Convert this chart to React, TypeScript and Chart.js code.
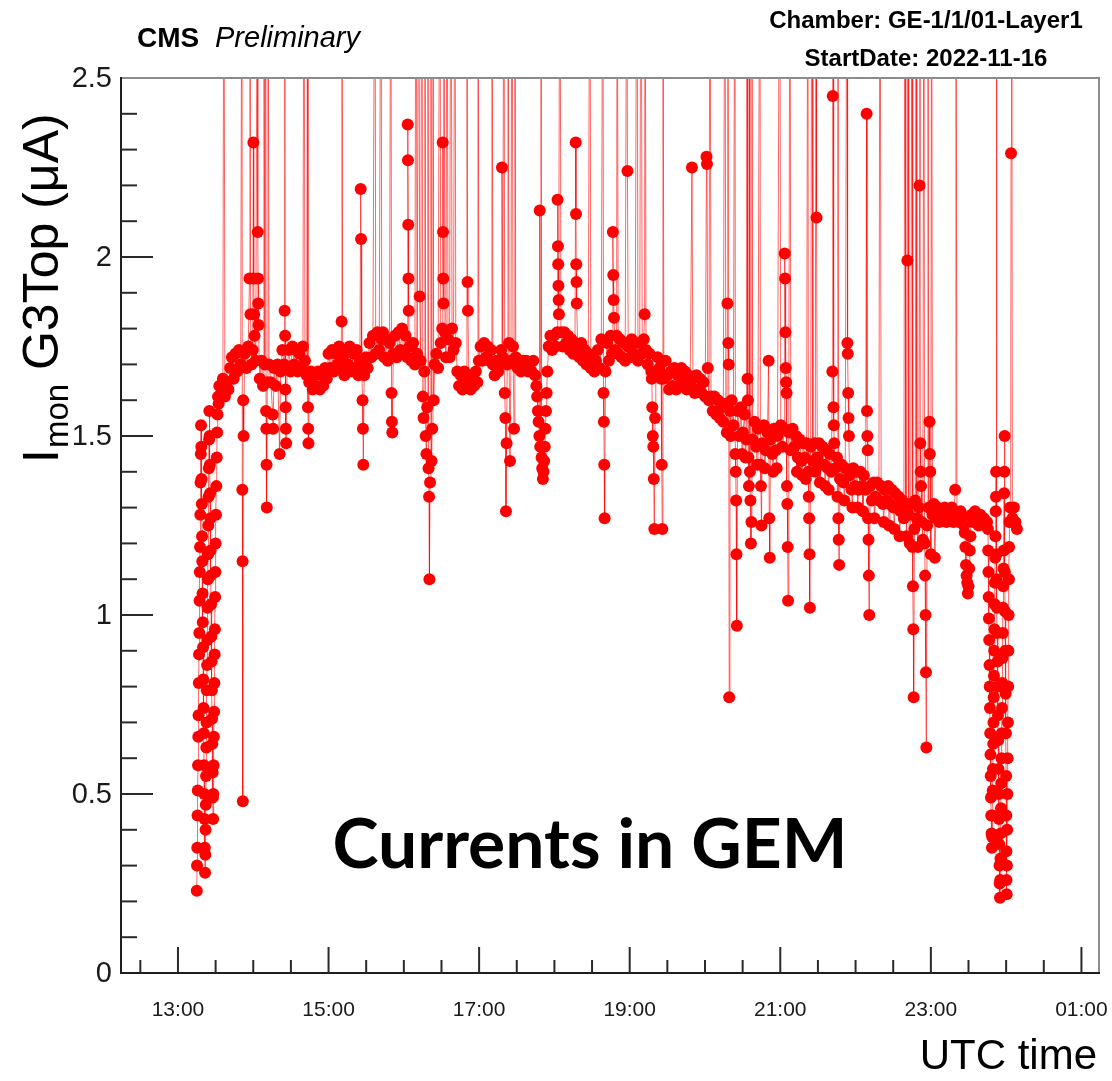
import { useEffect, useRef } from "react";
import { Chart, registerables } from "chart.js";

Chart.register(...registerables);

type Pt = [number, number];

// Time = minutes after 12:00 UTC (2022-11-16); value = I_mon G3Top in µA.
// Values above 2.5 are excursions that leave the frame (drawn as spikes to the top).

const rampUp: Pt[] = [
  [75.0, 0.23], [75.2, 0.3], [75.4, 0.35], [75.6, 0.44], [75.8, 0.51], [76.0, 0.58], [76.2, 0.66], [76.4, 0.72],
  [76.6, 0.81], [76.8, 0.89], [77.0, 0.95], [77.2, 1.04], [77.4, 1.12], [77.6, 1.19], [77.8, 1.28], [78.0, 1.37],
  [78.2, 1.45], [78.4, 1.53], [78.6, 1.47], [78.8, 1.38], [79.0, 1.31], [79.2, 1.22], [79.4, 1.15], [79.6, 1.06],
  [79.8, 0.98], [80.0, 0.91], [80.2, 0.82], [80.4, 0.74], [80.6, 0.67], [80.8, 0.58], [81.0, 0.5], [81.2, 0.43],
  [81.4, 0.35], [81.6, 0.28], [81.8, 0.33], [82.0, 0.4], [82.2, 0.47], [82.4, 0.55], [82.6, 0.63], [82.8, 0.7],
  [83.0, 0.79], [83.2, 0.86], [83.4, 0.93], [83.6, 1.02], [83.8, 1.1], [84.0, 1.17], [84.2, 1.25], [84.4, 1.33],
  [84.6, 1.41], [84.8, 1.49], [85.0, 1.57], [85.2, 1.5], [85.4, 1.42], [85.6, 1.34], [85.8, 1.27], [86.0, 1.18],
  [86.2, 1.11], [86.4, 1.03], [86.6, 0.94], [86.8, 0.87], [87.0, 0.79], [87.2, 0.71], [87.4, 0.64], [87.6, 0.56],
  [87.8, 0.49], [88.0, 0.43], [88.2, 0.5], [88.4, 0.58], [88.6, 0.66], [88.8, 0.73], [89.0, 0.81], [89.2, 0.89],
  [89.4, 0.96], [89.6, 1.05], [89.8, 1.12], [90.0, 1.2], [90.3, 1.28], [90.6, 1.36], [90.9, 1.44], [91.2, 1.51],
  [91.5, 1.56], [91.9, 1.61], [92.4, 1.59], [92.9, 1.64],
];

const early: Pt[] = [
  [94.5, 1.62], [95.8, 1.66], [96.6, 3.2], [97.4, 1.61], [98.8, 1.65], [100.2, 1.63], [101.6, 1.69], [103.0, 1.72],
  [104.4, 1.66], [105.8, 1.73], [107.2, 1.68], [108.6, 1.74], [110.0, 1.7], [111.0, 3.2], [111.3, 1.35], [111.5, 1.15],
  [111.7, 0.48], [112.0, 1.6], [112.3, 1.5], [113.2, 1.73], [114.6, 1.69], [116.0, 1.75], [117.0, 1.94], [117.4, 3.2],
  [117.8, 1.84], [118.6, 1.7], [119.6, 1.74], [120.1, 2.32], [120.4, 1.94], [120.7, 1.84], [121.0, 1.78], [122.0, 1.71],
  [123.4, 3.2], [123.6, 2.07], [123.8, 1.94], [124.0, 1.87], [124.2, 1.81], [125.2, 1.66], [126.6, 1.71], [127.8, 1.64],
  [128.5, 3.2], [129.2, 1.7], [130.0, 3.2], [130.2, 1.57], [130.4, 1.52], [130.6, 1.42], [130.8, 1.3], [131.2, 1.65],
  [131.7, 3.2], [132.6, 1.7], [134.0, 1.65], [135.5, 1.56], [135.8, 1.52], [136.6, 1.69], [138.0, 1.64], [139.4, 1.7],
  [141.0, 1.45], [141.8, 1.68], [143.2, 1.74], [144.6, 1.7], [145.0, 1.85], [145.2, 3.2], [145.4, 1.78], [145.6, 1.63],
  [145.8, 1.58], [146.0, 1.52], [146.2, 1.48], [147.0, 1.69], [148.4, 1.74], [149.8, 1.68], [151.2, 1.75], [152.6, 1.7],
  [154.0, 1.74], [155.4, 1.68], [156.8, 1.73], [158.2, 1.69], [159.6, 1.75], [160.4, 3.2], [161.2, 1.71], [162.6, 1.67],
  [163.4, 3.2], [163.6, 1.58], [163.8, 1.52], [164.0, 1.48], [164.6, 1.65], [166.0, 1.68], [167.4, 1.63], [168.8, 1.67],
  [170.2, 1.64], [171.6, 1.68], [173.0, 1.63], [174.4, 1.67], [175.8, 1.64], [177.2, 1.69], [178.6, 1.66],
];

const midA: Pt[] = [
  [180.0, 1.73], [181.4, 1.69], [182.8, 1.74], [184.2, 1.68], [185.6, 1.73], [187.0, 1.7], [188.4, 1.75], [189.8, 1.69],
  [190.4, 1.82], [190.7, 3.2], [191.2, 1.72], [192.6, 1.67], [194.0, 1.74], [195.4, 1.7], [196.8, 1.75], [198.2, 1.68],
  [199.6, 1.73], [201.0, 1.69], [202.4, 1.74], [203.8, 1.67], [205.0, 1.71], [205.6, 2.19], [205.9, 2.05], [206.4, 1.7],
  [207.1, 1.6], [207.4, 1.52], [207.7, 1.42], [208.4, 1.67], [209.8, 1.72], [211.2, 1.69], [212.6, 1.76], [214.0, 1.72],
  [215.4, 1.78], [217.0, 3.2], [217.6, 1.73], [219.0, 1.79], [220.4, 1.74], [221.8, 3.2], [222.4, 1.77], [223.4, 1.79],
  [224.4, 1.72], [225.8, 1.77], [227.2, 1.71], [228.6, 1.76], [229.7, 3.2], [230.2, 1.62], [230.5, 1.54], [230.8, 1.51],
  [231.6, 1.73], [233.0, 1.78], [234.4, 1.72], [235.8, 1.79], [237.2, 1.74], [238.6, 1.8], [240.0, 1.73], [241.4, 1.78],
  [242.8, 1.72], [243.1, 2.37], [243.3, 2.27], [243.5, 2.09], [243.7, 1.94], [243.9, 1.85], [244.6, 1.75], [246.0, 1.71],
  [247.4, 1.76], [248.8, 1.7], [249.7, 3.2], [250.6, 1.73], [252.0, 3.2], [252.6, 1.89], [253.4, 1.71], [254.4, 3.2],
  [255.1, 1.61], [255.7, 1.55], [256.3, 1.68], [256.8, 3.2], [257.4, 1.5], [258.0, 1.45], [258.6, 1.58], [259.2, 3.2],
  [259.7, 1.41], [260.1, 1.33], [260.4, 1.1], [260.9, 1.37], [261.6, 3.2], [262.1, 1.43], [262.6, 1.52], [263.2, 3.2],
  [263.8, 1.6], [264.5, 1.7], [265.9, 1.73], [267.3, 1.69], [268.8, 3.2], [269.4, 1.76], [270.6, 1.8], [271.0, 2.32],
  [271.2, 2.07], [271.4, 1.94], [271.6, 1.87], [272.0, 3.2], [272.8, 1.79], [273.6, 1.72], [274.4, 3.2], [275.2, 1.77],
  [276.4, 1.72], [277.6, 3.2], [278.4, 1.8], [279.6, 1.74], [280.7, 3.2], [281.4, 1.76], [282.6, 1.68], [284.0, 1.64],
  [285.4, 1.67], [286.8, 1.63], [288.2, 1.68], [289.6, 1.65], [290.3, 3.2], [290.8, 1.93], [291.1, 1.85], [291.8, 1.66],
  [293.2, 1.63], [294.6, 1.67], [296.0, 1.64], [297.4, 1.68], [298.6, 1.65], [299.1, 3.2], [299.8, 1.71],
];

const midB: Pt[] = [
  [301.2, 1.75], [302.6, 1.71], [304.0, 1.76], [305.4, 1.72], [306.8, 1.75], [308.2, 1.71], [309.6, 1.74], [310.2, 3.2],
  [311.0, 1.7], [312.4, 1.67], [313.8, 1.71], [315.2, 1.68], [316.6, 1.7], [317.6, 1.74], [318.2, 2.25], [318.8, 1.72],
  [319.8, 3.2], [320.4, 1.62], [320.9, 1.55], [321.4, 1.29], [321.9, 1.48], [322.4, 1.7], [323.0, 3.2], [323.8, 1.76],
  [324.6, 1.43], [325.4, 1.71], [326.2, 3.2], [327.0, 1.75], [327.8, 1.52], [328.5, 3.2], [329.2, 1.72], [330.6, 1.69],
  [332.0, 1.71], [333.4, 1.68], [334.8, 1.71], [336.2, 1.69], [337.6, 1.71], [339.0, 1.68], [340.4, 1.7], [341.8, 1.68],
  [343.2, 1.71], [344.6, 1.67], [345.6, 1.64], [346.2, 1.61], [346.8, 1.57], [347.4, 1.54], [348.0, 1.5], [348.3, 2.13],
  [348.7, 1.47], [349.3, 3.2], [349.8, 1.44], [350.3, 1.41], [350.8, 1.38], [351.3, 1.4], [351.8, 1.43], [352.3, 1.47],
  [352.8, 1.52], [353.3, 1.57], [353.8, 1.62], [354.4, 1.68], [355.4, 1.75], [356.8, 1.78], [358.2, 1.74], [359.6, 1.78],
  [361.0, 1.75], [362.2, 1.79], [362.5, 2.16], [362.8, 2.03], [363.0, 1.98], [363.2, 1.92], [363.4, 1.88], [363.6, 1.84],
  [364.4, 3.2], [365.2, 1.79], [366.6, 1.75], [368.0, 1.79], [369.4, 1.76], [370.8, 1.78], [372.2, 1.74], [373.6, 1.77],
  [375.0, 1.73], [376.4, 1.76], [377.0, 2.32], [377.2, 2.12], [377.4, 1.98], [377.6, 1.93], [377.8, 1.87], [378.6, 1.75],
  [380.0, 1.72], [381.4, 1.76], [382.8, 1.71], [384.2, 1.74], [385.6, 1.7], [387.0, 1.73], [388.3, 3.2], [389.0, 1.69],
  [390.4, 1.72], [391.8, 1.68], [393.2, 1.71], [394.6, 1.74], [396.0, 1.69], [397.4, 1.77], [398.7, 3.2], [399.1, 1.62],
  [399.4, 1.54], [399.7, 1.42], [400.0, 1.27], [400.7, 1.68], [402.0, 1.76], [403.4, 1.71], [404.8, 1.78], [406.0, 1.73],
  [406.6, 2.07], [406.9, 1.95], [407.2, 1.88], [407.5, 1.83], [408.4, 1.74], [409.6, 1.78], [410.0, 3.2], [410.8, 1.73],
  [412.2, 1.77], [413.6, 1.72], [415.0, 1.76], [416.4, 1.71], [417.8, 3.2], [418.2, 2.24], [418.8, 1.75],
];

const lateA: Pt[] = [
  [420.2, 1.72], [421.6, 1.77], [423.0, 1.73], [424.4, 1.76], [425.8, 3.2], [426.6, 1.71], [428.0, 1.76], [429.0, 3.2],
  [430.0, 1.73], [431.2, 1.77], [431.9, 1.84], [432.2, 3.2], [433.0, 1.74], [434.4, 1.7], [435.8, 1.73], [437.2, 1.68],
  [437.6, 1.66], [438.0, 1.58], [438.4, 1.5], [438.8, 1.47], [439.2, 1.38], [439.6, 1.24], [440.2, 1.55], [440.8, 1.68],
  [442.2, 1.72], [443.6, 1.69], [445.0, 1.66], [445.5, 1.42], [446.0, 1.24], [446.5, 3.2], [447.2, 1.66], [448.6, 1.71],
  [450.0, 1.67], [451.4, 1.63], [452.8, 1.68], [454.2, 1.64], [455.6, 1.69], [457.0, 1.63], [458.4, 1.67], [459.8, 1.64],
  [461.2, 1.69], [462.6, 1.65], [464.0, 1.68], [465.4, 1.63], [466.8, 1.67], [468.2, 1.64], [469.6, 2.25], [470.4, 1.66],
  [471.8, 1.62], [473.2, 1.67], [474.6, 1.63], [476.0, 1.66], [477.4, 1.62], [478.8, 1.65], [480.2, 1.61], [481.2, 2.28],
  [481.6, 2.26], [482.2, 1.69], [483.2, 1.6], [484.0, 3.2], [484.8, 1.61], [486.2, 1.57], [487.6, 1.61], [489.0, 1.56],
  [490.4, 1.6], [491.8, 1.55], [493.2, 1.58], [494.6, 1.54], [495.9, 3.2], [496.6, 1.59], [497.4, 1.51], [497.9, 1.87],
  [498.3, 3.2], [498.6, 1.76], [498.9, 1.7], [499.3, 0.77], [499.9, 1.57], [500.5, 1.5], [501.2, 1.6], [502.6, 1.53],
  [503.9, 3.2], [504.2, 1.45], [504.5, 1.4], [504.8, 1.32], [505.1, 1.17], [505.4, 0.97], [506.0, 1.57], [507.4, 1.5],
  [508.8, 1.58], [509.5, 1.45], [510.2, 1.51], [511.6, 1.56], [512.3, 1.44], [513.0, 1.49], [513.5, 3.2], [513.9, 1.66],
  [514.2, 1.6], [514.6, 1.44], [515.0, 1.36], [515.4, 3.2], [515.8, 1.4], [516.2, 1.32], [516.6, 1.2], [517.0, 1.26],
  [517.4, 3.2], [518.0, 1.49], [519.4, 1.54], [520.8, 1.47], [521.5, 1.42], [522.2, 1.52], [523.8, 3.2], [524.2, 1.42],
  [524.6, 1.36], [525.0, 1.25], [525.6, 1.48], [527.0, 1.53], [527.7, 1.41], [528.4, 1.46], [529.8, 1.51], [530.7, 1.71],
  [531.2, 1.27], [531.6, 1.16], [532.2, 1.49], [533.6, 1.45], [534.3, 1.4], [535.0, 1.52], [536.4, 1.46], [537.1, 1.41],
  [537.8, 1.5],
];

const lateB: Pt[] = [
  [539.5, 3.2], [540.4, 1.53], [541.8, 1.47], [543.2, 1.52], [543.5, 2.01], [543.8, 1.94], [544.1, 1.79], [544.4, 1.69],
  [544.7, 1.65], [545.0, 1.62], [545.3, 1.36], [545.6, 1.31], [545.9, 1.19], [546.2, 1.04], [546.8, 1.51], [547.7, 3.2],
  [548.4, 1.46], [549.8, 1.52], [551.2, 1.47], [552.6, 1.5], [553.3, 1.4], [554.0, 1.44], [555.4, 1.49], [556.8, 1.43],
  [557.5, 1.39], [558.2, 1.48], [559.6, 1.44], [560.3, 1.38], [561.0, 1.48], [562.0, 3.2], [562.4, 1.4], [562.7, 1.33],
  [563.0, 1.27], [563.3, 1.17], [563.6, 1.02], [564.2, 1.47], [565.3, 3.2], [566.0, 1.43], [567.4, 1.48], [567.9, 1.4],
  [568.5, 3.2], [568.9, 2.11], [569.5, 1.44], [570.9, 1.48], [571.6, 1.37], [572.3, 1.42], [573.7, 1.47], [575.1, 1.42],
  [575.8, 1.36], [576.5, 1.46], [577.9, 1.41], [578.6, 1.35], [579.3, 1.45], [580.7, 1.4], [581.5, 1.68], [581.8, 2.45],
  [582.1, 3.2], [582.4, 1.58], [582.7, 1.53], [583.0, 1.48], [583.8, 1.41], [585.2, 1.44], [585.6, 1.33], [586.0, 3.2],
  [586.3, 1.27], [586.6, 1.21], [586.9, 1.14], [587.6, 1.38], [589.0, 1.42], [590.4, 1.37], [591.1, 1.32], [591.8, 1.41],
  [593.2, 3.2], [593.5, 1.76], [593.8, 1.73], [594.1, 1.62], [594.4, 1.55], [594.7, 1.5], [595.4, 1.39], [596.8, 1.35],
  [597.5, 1.3], [598.2, 1.41], [599.6, 1.36], [601.0, 1.4], [601.7, 1.3], [602.4, 1.35], [603.8, 1.4], [605.2, 1.36],
  [605.9, 1.29], [606.6, 1.39], [608.0, 1.35], [608.8, 2.4], [609.1, 1.57], [609.4, 1.5], [609.7, 1.46], [610.0, 1.27],
  [610.3, 1.21], [610.6, 1.11], [610.9, 1.0], [611.6, 1.36], [613.0, 1.32], [614.4, 1.37], [615.1, 1.27], [615.8, 1.33],
  [617.2, 1.37], [618.6, 1.32], [619.5, 3.2], [620.4, 1.36], [621.8, 1.31], [622.5, 1.26], [623.2, 1.35], [624.6, 1.32],
  [626.0, 1.36], [626.7, 1.25], [627.4, 1.31], [628.8, 1.35], [630.2, 1.3], [630.9, 1.24], [631.6, 1.34], [633.0, 1.3],
  [634.4, 1.33], [635.1, 1.22], [635.8, 1.29], [637.2, 1.32], [638.5, 1.27], [639.4, 3.2], [640.0, 1.31], [640.6, 1.22],
  [641.3, 1.99], [641.8, 3.2], [642.4, 1.28], [643.2, 1.2], [644.0, 1.31], [645.0, 3.2], [645.4, 1.19], [645.7, 1.08],
  [646.0, 0.96], [646.3, 0.77], [646.9, 1.24], [647.6, 1.32], [648.2, 3.2], [648.8, 1.27], [649.6, 1.19], [650.4, 1.3],
  [651.0, 2.2], [651.3, 3.2], [651.6, 1.48], [651.9, 1.4], [652.2, 1.36], [652.8, 1.26], [653.6, 1.21], [654.5, 3.2],
  [655.0, 1.2], [655.4, 1.11], [655.8, 1.0], [656.1, 0.84], [656.4, 0.63], [657.0, 1.25], [657.7, 3.2], [658.3, 1.3],
  [658.9, 1.54], [659.2, 1.45], [659.5, 1.4], [660.0, 1.17], [660.6, 3.2], [661.3, 1.28],
];

const rampDown: Pt[] = [
  [662.4, 1.31], [663.2, 1.16], [664.0, 1.27], [665.4, 1.3], [666.8, 1.26], [668.2, 1.29], [669.6, 1.27], [671.0, 1.3],
  [672.4, 1.26], [673.8, 1.29], [675.2, 1.27], [676.6, 1.3], [678.0, 1.26], [679.4, 1.35], [680.0, 3.2], [680.8, 1.28],
  [682.2, 1.26], [683.6, 1.29], [685.0, 1.27], [686.4, 1.25], [687.0, 1.23], [687.5, 1.19], [688.0, 1.14], [688.5, 1.11],
  [689.0, 1.09], [689.5, 1.06], [690.0, 1.08], [690.5, 1.13], [691.0, 1.18], [691.5, 1.22], [692.4, 1.28], [693.8, 1.26],
  [695.2, 1.29], [696.6, 1.27], [698.0, 1.25], [699.4, 1.28], [700.8, 1.26], [702.2, 1.27], [703.6, 1.25], [704.8, 1.26],
  [705.5, 1.24], [705.7, 1.18], [705.9, 1.12], [706.1, 1.05], [706.3, 0.99], [706.5, 0.93], [706.7, 0.86], [706.9, 0.8],
  [707.1, 0.74], [707.3, 0.67], [707.5, 0.61], [707.7, 0.55], [707.9, 0.49], [708.1, 0.44], [708.4, 0.39], [708.7, 0.35],
  [708.9, 0.38], [709.1, 0.44], [709.3, 0.51], [709.5, 0.57], [709.7, 0.64], [709.9, 0.7], [710.1, 0.77], [710.3, 0.83],
  [710.5, 0.9], [710.7, 0.96], [710.9, 1.03], [711.1, 1.09], [711.3, 1.16], [711.5, 1.22], [711.7, 1.29], [711.9, 1.33],
  [712.0, 1.4], [712.1, 3.2], [712.3, 1.17], [712.5, 1.1], [712.7, 1.02], [712.9, 0.95], [713.1, 0.87], [713.3, 0.8],
  [713.5, 0.72], [713.7, 0.65], [713.9, 0.57], [714.1, 0.5], [714.3, 0.43], [714.5, 0.36], [714.7, 0.3], [714.9, 0.25],
  [715.1, 0.21], [715.3, 0.26], [715.5, 0.32], [715.7, 0.39], [715.9, 0.46], [716.1, 0.53], [716.3, 0.6], [716.5, 0.67],
  [716.7, 0.74], [716.9, 0.81], [717.1, 0.88], [717.3, 0.95], [717.5, 1.02], [717.7, 1.08], [717.9, 1.13], [718.1, 1.18],
  [718.4, 1.34], [718.6, 1.4], [718.8, 1.5], [719.0, 1.12], [719.2, 1.01], [719.4, 0.9], [719.6, 0.78], [719.8, 0.67],
  [720.0, 0.55], [720.1, 0.44], [720.2, 0.34], [720.3, 0.26], [720.4, 0.22], [720.6, 0.3], [720.8, 0.4], [721.0, 0.5],
  [721.2, 0.6], [721.4, 0.7], [721.6, 0.8], [721.8, 0.9], [722.0, 1.0], [722.2, 1.1], [722.4, 1.19], [722.6, 1.26],
  [723.2, 1.3], [723.6, 1.26], [723.9, 2.29], [724.4, 3.2], [725.0, 1.27], [726.2, 1.3], [727.4, 1.26], [728.6, 1.24],
];

const segments: Pt[][] = [rampUp, early, midA, midB, lateA, lateB, rampDown];

const xRange = { min: 14.6, max: 794 };
const xMajorTicks = [60, 180, 300, 420, 540, 660, 780];
const yMajorTicks = [0, 0.5, 1, 1.5, 2, 2.5];
const yTickLabels = ["0", "0.5", "1", "1.5", "2", "2.5"];

const SANS = '"Liberation Sans", Arial, Helvetica, sans-serif';

function timeLabel(m: number) {
  const h = (12 + Math.floor(m / 60)) % 24;
  const mm = Math.round(m % 60);
  return `${String(h).padStart(2, "0")}:${String(mm).padStart(2, "0")}`;
}

const rootFrame = {
  id: "rootFrame",
  afterDatasetsDraw(chart: any) {
    const { ctx, chartArea: a, scales } = chart;
    const xs = scales.x;
    const ys = scales.y;
    ctx.save();
    ctx.lineCap = "butt";
    // frame
    ctx.lineWidth = 2;
    ctx.strokeStyle = "#8c8c8c";
    ctx.beginPath();
    ctx.moveTo(a.left, a.top);
    ctx.lineTo(a.right, a.top);
    ctx.lineTo(a.right, a.bottom);
    ctx.stroke();
    ctx.strokeStyle = "#1e1e1e";
    ctx.beginPath();
    ctx.moveTo(a.left, a.top - 1);
    ctx.lineTo(a.left, a.bottom);
    ctx.lineTo(a.right + 1, a.bottom);
    ctx.stroke();

    // x ticks: major every 2 h, minor every 30 min
    ctx.strokeStyle = "#2a2a2a";
    ctx.lineWidth = 2;
    for (let m = 0; m <= xRange.max; m += 30) {
      const px = xs.getPixelForValue(m);
      if (px <= a.left + 2 || px >= a.right - 2) continue;
      const major = xMajorTicks.includes(m);
      const len = major ? 26 : 13;
      ctx.beginPath();
      ctx.moveTo(px, a.bottom);
      ctx.lineTo(px, a.bottom - len);
      ctx.stroke();
    }
    // y ticks: major every 0.5, minor every 0.1
    for (let i = 1; i < 25; i++) {
      const v = i / 10;
      const py = ys.getPixelForValue(v);
      const major = i % 5 === 0;
      const len = major ? 32 : 16;
      ctx.beginPath();
      ctx.moveTo(a.left, py);
      ctx.lineTo(a.left + len, py);
      ctx.stroke();
    }

    // x tick labels
    ctx.fillStyle = "#1a1a1a";
    ctx.font = `21px ${SANS}`;
    ctx.textAlign = "center";
    ctx.textBaseline = "alphabetic";
    xMajorTicks.forEach((m) => {
      ctx.fillText(timeLabel(m), xs.getPixelForValue(m), 1016);
    });
    // y tick labels
    ctx.font = `29px ${SANS}`;
    ctx.textAlign = "right";
    ctx.textBaseline = "middle";
    yMajorTicks.forEach((v, i) => {
      ctx.fillText(yTickLabels[i], 112, ys.getPixelForValue(v) + 1);
    });

    // axis titles
    ctx.fillStyle = "#000";
    ctx.textBaseline = "alphabetic";
    ctx.font = `42px ${SANS}`;
    ctx.textAlign = "right";
    ctx.fillText("UTC time", 1097, 1069);

    ctx.save();
    ctx.translate(58, 463);
    ctx.rotate(-Math.PI / 2);
    ctx.textAlign = "left";
    let x = 0;
    ctx.font = `50px ${SANS}`;
    ctx.fillText("I", x, 0);
    x += ctx.measureText("I").width + 1;
    ctx.font = `33px ${SANS}`;
    ctx.fillText("mon", x, 10);
    x += ctx.measureText("mon").width;
    ctx.font = `50px ${SANS}`;
    ctx.fillText(" G3Top (\u03bcA)", x, 0);
    ctx.restore();

    // header texts
    ctx.textAlign = "left";
    ctx.font = `bold 28px ${SANS}`;
    ctx.fillText("CMS", 137, 47);
    ctx.font = `italic 29px ${SANS}`;
    ctx.fillText("Preliminary", 215, 47);

    ctx.textAlign = "center";
    ctx.font = `bold 24px ${SANS}`;
    ctx.fillText("Chamber: GE-1/1/01-Layer1", 926, 28);
    ctx.fillText("StartDate: 2022-11-16", 926, 66);

    // annotation
    const label = "Currents in GEM";
    ctx.font = `bold 100px Lato, "Open Sans", sans-serif`;
    const w100 = ctx.measureText(label).width;
    const size = (100 * 515) / w100;
    ctx.font = `bold ${size.toFixed(1)}px Lato, "Open Sans", sans-serif`;
    ctx.fillText(label, 590, 868);

    ctx.restore();
  },
};

export default function App() {
  const ref = useRef<HTMLCanvasElement | null>(null);

  useEffect(() => {
    const canvas = ref.current;
    if (!canvas) return;
    const data = segments.flat().map(([x, y]) => ({ x, y }));
    const chart = new Chart(canvas, {
      type: "line",
      data: {
        datasets: [
          {
            data,
            borderColor: "rgba(255,0,0,0.6)",
            borderWidth: 1,
            pointRadius: 6,
            pointHoverRadius: 6,
            pointBackgroundColor: "#ff0000",
            pointBorderWidth: 0,
            pointBorderColor: "#ff0000",
            tension: 0,
            fill: false,
            clip: 0,
          } as any,
        ],
      },
      options: {
        animation: false,
        responsive: false,
        events: [],
        layout: { padding: { left: 121, right: 13, top: 78, bottom: 108 } },
        scales: {
          x: { type: "linear", min: xRange.min, max: xRange.max, display: false },
          y: { type: "linear", min: 0, max: 2.5, display: false },
        },
        plugins: { legend: { display: false }, tooltip: { enabled: false } },
      },
      plugins: [rootFrame],
    });
    return () => chart.destroy();
  }, []);

  return (
    <div style={{ position: "fixed", left: 0, top: 0, width: 1112, height: 1081, background: "#fff" }}>
      <canvas ref={ref} width={1112} height={1081} style={{ display: "block" }} />
    </div>
  );
}
